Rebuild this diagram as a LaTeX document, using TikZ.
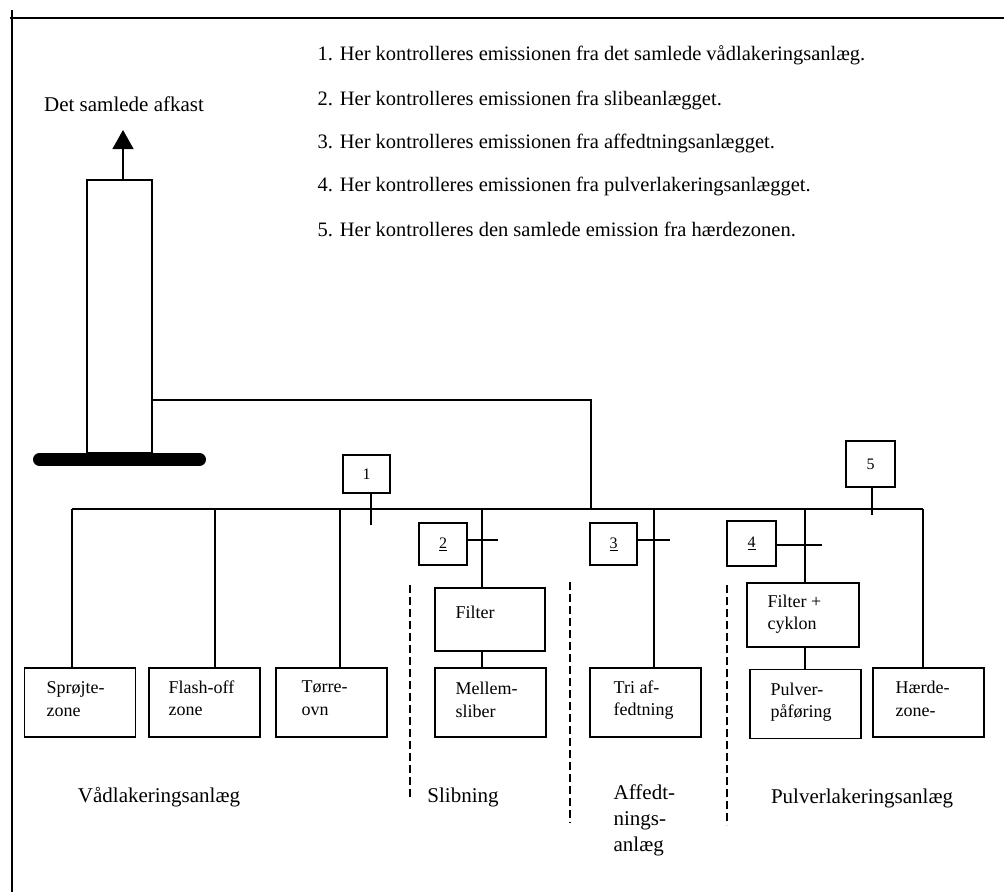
\documentclass[tikz,border=0pt]{standalone}
\usepackage{fontspec}
\setmainfont{Liberation Serif}
\usetikzlibrary{arrows.meta,calc}
\begin{document}
\begin{tikzpicture}[x=1pt,y=-1pt,line width=1.3pt,
  box/.style={draw,line width=1.3pt,inner sep=0pt,minimum width=111pt,minimum height=69pt},
  numbox/.style={draw,line width=1.3pt,inner sep=0pt,minimum width=48pt,minimum height=42pt,font=\fontsize{16}{18}\selectfont},
  btxt/.style={anchor=west,align=left,inner sep=0pt,font=\fontsize{18}{22.5}\selectfont},
  bigtxt/.style={inner sep=0pt,font=\fontsize{21}{26}\selectfont},
  listtxt/.style={anchor=west,inner sep=0pt,font=\fontsize{20.5}{24}\selectfont},
  sep/.style={line width=1.2pt,dash pattern=on 8pt off 4pt}]
\useasboundingbox (0,0) rectangle (1004,892);

% frame lines
\coordinate (f1) at (12,10); \coordinate (f2) at (12,892);
\coordinate (f3) at (10,18); \coordinate (f4) at (1004,18);
\draw (f1) -- (f2);
\draw (f3) -- (f4);

% list
\node[listtxt] (l1) at (317,55) {1. Her kontrolleres emissionen fra det samlede vådlakeringsanlæg.};
\node[listtxt] (l2) at (317,100) {2. Her kontrolleres emissionen fra slibeanlægget.};
\node[listtxt] (l3) at (317,143) {3. Her kontrolleres emissionen fra affedtningsanlægget.};
\node[listtxt] (l4) at (317,186) {4. Her kontrolleres emissionen fra pulverlakeringsanlægget.};
\node[listtxt] (l5) at (317,229) {5. Her kontrolleres den samlede emission fra hærdezonen.};

% chimney
\node[bigtxt] (afk) at (124,104) {Det samlede afkast};
\node[draw,line width=1.3pt,inner sep=0pt,minimum width=65pt,minimum height=273pt] (chim) at (119.5,316.5) {};
\coordinate (ar) at (123,130);
\draw[-{Triangle[width=21pt,length=19pt]}] (chim.north -| ar) -- (ar);
\coordinate (b1) at (39.5,459.5); \coordinate (b2) at (199.5,459.5);
\draw[line width=13pt,line cap=round] (b1) -- (b2);

% main collector
\coordinate (mL) at (72,509); \coordinate (mR) at (923,509);
\draw (mL) -- (mR);
\coordinate (cA) at (591,400); \coordinate (jA) at (591,509);
\draw (chim.east |- cA) -- (cA) -- (jA);

% boxes
\node[box] (spr) at (80,702.5) {};
\node[box] (fla) at (204.5,702.5) {};
\node[box] (tor) at (331.5,702.5) {};
\node[box] (mel) at (490.5,702.5) {};
\node[box] (tri) at (645.5,702.5) {};
\node[box] (pul) at (805.5,704) {};
\node[box] (hae) at (928.5,702.5) {};
\node[box,minimum width=110pt,minimum height=63pt] (fil) at (490,619.5) {};
\node[box,minimum width=112pt,minimum height=64pt] (fcy) at (803,615) {};

% box texts
\node[btxt] (sprt) at (46,699) {Sprøjte-\\zone};
\node[btxt] (flat) at (168,698) {Flash-off\\zone};
\node[btxt] (tort) at (301,698) {Tørre-\\ovn};
\node[btxt] (melt) at (455,700) {Mellem-\\sliber};
\node[btxt] (trit) at (613,700) {Tri af-\\fedtning};
\node[btxt] (pult) at (770,702) {Pulver-\\påføring};
\node[btxt] (haet) at (895,699) {Hærde-\\zone-};
\node[btxt] (filt) at (455,612) {Filter};
\node[btxt] (fcyt) at (767,614) {Filter +\\cyklon};

% drops
\coordinate (jF) at (215,509);
\coordinate (jT) at (340,509);
\coordinate (jM) at (482,509);
\coordinate (jR) at (654,509);
\coordinate (jP) at (805,509);
\draw (mL) -- (spr.north -| mL);
\draw (jF) -- (fla.north -| jF);
\draw (jT) -- (tor.north -| jT);
\draw (jM) -- (fil.north -| jM);
\draw (fil.south -| jM) -- (mel.north -| jM);
\draw (jR) -- (tri.north -| jR);
\draw (jP) -- (fcy.north -| jP);
\draw (fcy.south -| jP) -- (pul.north -| jP);
\draw (mR) -- (hae.north -| mR);

% measuring points
\node[numbox,minimum width=47pt,minimum height=38pt] (n1) at (366.5,474) {1};
\node[numbox] (n2) at (443,544) {\underline{2}};
\node[numbox,minimum width=47pt] (n3) at (613.5,544) {\underline{3}};
\node[numbox,minimum width=49pt,minimum height=45pt] (n4) at (751.5,543.5) {\underline{4}};
\node[numbox,minimum width=49pt,minimum height=46pt] (n5) at (870.5,464) {5};
\coordinate (t1) at (371,525);
\coordinate (t2) at (498,540);
\coordinate (t3) at (670,540);
\coordinate (t4) at (822,545);
\coordinate (t5) at (872,515);
\draw (n1.south -| t1) -- (t1);
\draw (n2.east |- t2) -- (t2);
\draw (n3.east |- t3) -- (t3);
\draw (n4.east |- t4) -- (t4);
\draw (n5.south -| t5) -- (t5);

% separators
\coordinate (d1a) at (410,585); \coordinate (d1b) at (410,800);
\coordinate (d2a) at (570,582); \coordinate (d2b) at (570,823);
\coordinate (d3a) at (727,585); \coordinate (d3b) at (727,825);
\draw[sep] (d1a) -- (d1b);
\draw[sep] (d2a) -- (d2b);
\draw[sep] (d3a) -- (d3b);

% section labels
\node[bigtxt] (vad) at (159,797) {Vådlakeringsanlæg};
\node[bigtxt] (sli) at (463,797) {Slibning};
\node[bigtxt,anchor=west,align=left] (aff) at (613,820) {Affedt-\\nings-\\anlæg};
\node[bigtxt] (pls) at (862,798) {Pulverlakeringsanlæg};
\end{tikzpicture}
\end{document}
